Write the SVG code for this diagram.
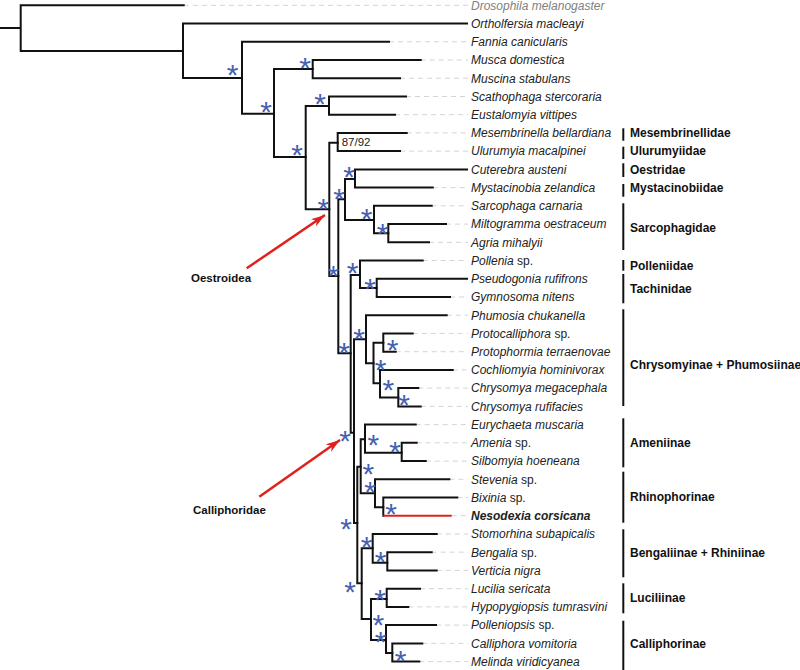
<svg xmlns="http://www.w3.org/2000/svg" width="800" height="670" viewBox="0 0 800 670">
<style>
.br{fill:none;stroke:#111;stroke-width:2;stroke-linecap:square}
.red{fill:none;stroke:#e0201c;stroke-width:2}
.ld{fill:none;stroke:#d4d4d4;stroke-width:1;stroke-dasharray:5 4}
.lf{font-family:"Liberation Sans",Arial,sans-serif;font-size:12px;font-style:italic;fill:#222}
.lf tspan.up{font-style:normal}
.dro{fill:#808080}
.ast{font-family:"Liberation Sans",Arial,sans-serif;font-size:30px;fill:#4561b0;text-anchor:middle}
.bs{font-family:"Liberation Sans",Arial,sans-serif;font-size:11.5px;fill:#222}
.fam{font-family:"Liberation Sans",Arial,sans-serif;font-size:12px;font-weight:bold;fill:#111}
.bar{stroke:#111;stroke-width:2}
.arr{fill:none;stroke:#e0201c;stroke-width:2.5}
.cl{font-family:"Liberation Sans",Arial,sans-serif;font-size:11.5px;font-weight:bold;fill:#111}
</style>
<defs>
<marker id="ah" markerUnits="userSpaceOnUse" markerWidth="16" markerHeight="10" refX="14" refY="5" orient="auto">
<path d="M0,0.5 L14,5 L0,9.5 L4,5 Z" fill="#e0201c"/>
</marker>
</defs>
<g id="connectors">
<g id="leaders">
<path class="ld" d="M184 5.3H468M389 41.8H468M420.7 60H468M400 78.2H468M406 96.5H468M395 114.7H468M406.7 132.9H468M400 151.1H468M432.7 187.6H468M431.7 205.8H468M446 224.1H468M429 242.3H468M422.7 260.5H468M450 297H468M446.7 315.2H468M412.7 333.4H468M395.7 351.7H468M452.7 369.9H468M418.3 388.1H468M420.7 406.4H468M415.7 424.6H468M416.7 442.8H468M425.7 461.1H468M449.3 479.3H468M457.3 497.5H468M451.7 515.7H468M436.7 534H468M431.7 552.2H468M436.7 570.4H468M420 588.7H468M408.3 606.9H468M436 625.1H468M422.3 643.4H468M419.3 661.6H468"/>
</g>
<g id="branches">
<path class="br" d="M0 28H20.7M183.7 5.3H20.7V51H183"/>
<path class="br" d="M467 23.5H183V78H242"/>
<path class="br" d="M389 41.8H242V113.7H274"/>
<path class="br" d="M312.7 69H274V157H305.7"/>
<path class="br" d="M420.7 60H312.7V78.2H400"/>
<path class="br" d="M329 106H305.7V209.3H329.3"/>
<path class="br" d="M406 96.5H329V114.7H395"/>
<path class="br" d="M337.7 142.7H329.3V276H338.3"/>
<path class="br" d="M406.7 132.9H337.7V151.1H400"/>
<path class="br" d="M345 199.3H338.3V353.3H350.7"/>
<path class="br" d="M355 179H345V220H374"/>
<path class="br" d="M467 169.4H355V187.6H432.7"/>
<path class="br" d="M431.7 205.8H374V233.3H388.3"/>
<path class="br" d="M446 224.1H388.3V242.3H429"/>
<path class="br" d="M360 275H350.7V432.7H354"/>
<path class="br" d="M422.7 260.5H360V288H376.7"/>
<path class="br" d="M467 278.8H376.7V297H450"/>
<path class="br" d="M366 339.3H354V523H357.3"/>
<path class="br" d="M446.7 315.2H366V363.3H373.5"/>
<path class="br" d="M383.3 342.7H373.5V383.3H380"/>
<path class="br" d="M412.7 333.4H383.3V351.7H395.7"/>
<path class="br" d="M452.7 369.9H380V397.5H398.3"/>
<path class="br" d="M418.3 388.1H398.3V406.4H420.7"/>
<path class="br" d="M360.7 466.7H357.3V583.3H361.7"/>
<path class="br" d="M365 439.3H360.7V493.3H375"/>
<path class="br" d="M415.7 424.6H365V452.7H401.7"/>
<path class="br" d="M416.7 442.8H401.7V461.1H425.7"/>
<path class="br" d="M449.3 479.3H375V507.3H383.3"/>
<path class="br" d="M457.3 497.5H383.3V515.7"/>
<path class="red" d="M383.3 515.7H451.7"/>
<path class="br" d="M372.7 548.3H361.7V619H371"/>
<path class="br" d="M436.7 534H372.7V562.7H387.3"/>
<path class="br" d="M431.7 552.2H387.3V570.4H436.7"/>
<path class="br" d="M386.7 599H371V640H386"/>
<path class="br" d="M420 588.7H386.7V606.9H408.3"/>
<path class="br" d="M436 625.1H386V653H392.3"/>
<path class="br" d="M422.3 643.4H392.3V661.6H419.3"/>
</g>
<g id="arrows">
<line class="arr" x1="246.7" y1="268.3" x2="325" y2="215" marker-end="url(#ah)"/>
<line class="arr" x1="259.3" y1="496.7" x2="340" y2="440" marker-end="url(#ah)"/>
</g>
</g>
<g id="support">
<text class="bs" x="341.7" y="145.7">87/92</text>
<text class="ast" x="232.7" y="85">*</text>
<text class="ast" x="305" y="78">*</text>
<text class="ast" x="266" y="122">*</text>
<text class="ast" x="320" y="114">*</text>
<text class="ast" x="297" y="164.7">*</text>
<text class="ast" x="323.3" y="218.7">*</text>
<text class="ast" x="349" y="187">*</text>
<text class="ast" x="339" y="208.7">*</text>
<text class="ast" x="366.7" y="228.7">*</text>
<text class="ast" x="382.7" y="243.7">*</text>
<text class="ast" x="333.3" y="286">*</text>
<text class="ast" x="352.7" y="283">*</text>
<text class="ast" x="370" y="298.7">*</text>
<text class="ast" x="359" y="349.3">*</text>
<text class="ast" x="344" y="363">*</text>
<text class="ast" x="392.7" y="360.3">*</text>
<text class="ast" x="380.7" y="380.3">*</text>
<text class="ast" x="388.3" y="400.3">*</text>
<text class="ast" x="404" y="415.3">*</text>
<text class="ast" x="345" y="451">*</text>
<text class="ast" x="373.3" y="454.7">*</text>
<text class="ast" x="395" y="462">*</text>
<text class="ast" x="368.3" y="483.7">*</text>
<text class="ast" x="370" y="502">*</text>
<text class="ast" x="391" y="523.7">*</text>
<text class="ast" x="346" y="539">*</text>
<text class="ast" x="366.7" y="557">*</text>
<text class="ast" x="380.7" y="572">*</text>
<text class="ast" x="350" y="601.5">*</text>
<text class="ast" x="380" y="610">*</text>
<text class="ast" x="378.3" y="634.5">*</text>
<text class="ast" x="380.7" y="651.5">*</text>
<text class="ast" x="400.5" y="670.5">*</text>
</g>
<g id="taxa">
<text class="lf dro" x="471" y="9.6">Drosophila melanogaster</text>
<text class="lf" x="471" y="27.8">Ortholfersia macleayi</text>
<text class="lf" x="471" y="46.1">Fannia canicularis</text>
<text class="lf" x="471" y="64.3">Musca domestica</text>
<text class="lf" x="471" y="82.5">Muscina stabulans</text>
<text class="lf" x="471" y="100.8">Scathophaga stercoraria</text>
<text class="lf" x="471" y="119">Eustalomyia vittipes</text>
<text class="lf" x="471" y="137.2">Mesembrinella bellardiana</text>
<text class="lf" x="471" y="155.4">Ulurumyia macalpinei</text>
<text class="lf" x="471" y="173.7">Cuterebra austeni</text>
<text class="lf" x="471" y="191.9">Mystacinobia zelandica</text>
<text class="lf" x="471" y="210.1">Sarcophaga carnaria</text>
<text class="lf" x="471" y="228.4">Miltogramma oestraceum</text>
<text class="lf" x="471" y="246.6">Agria mihalyii</text>
<text class="lf" x="471" y="264.8">Pollenia<tspan class="up"> sp.</tspan></text>
<text class="lf" x="471" y="283.1">Pseudogonia rufifrons</text>
<text class="lf" x="471" y="301.3">Gymnosoma nitens</text>
<text class="lf" x="471" y="319.5">Phumosia chukanella</text>
<text class="lf" x="471" y="337.7">Protocalliphora<tspan class="up"> sp.</tspan></text>
<text class="lf" x="471" y="356">Protophormia terraenovae</text>
<text class="lf" x="471" y="374.2">Cochliomyia hominivorax</text>
<text class="lf" x="471" y="392.4">Chrysomya megacephala</text>
<text class="lf" x="471" y="410.7">Chrysomya rufifacies</text>
<text class="lf" x="471" y="428.9">Eurychaeta muscaria</text>
<text class="lf" x="471" y="447.1">Amenia<tspan class="up"> sp.</tspan></text>
<text class="lf" x="471" y="465.4">Silbomyia hoeneana</text>
<text class="lf" x="471" y="483.6">Stevenia<tspan class="up"> sp.</tspan></text>
<text class="lf" x="471" y="501.8">Bixinia<tspan class="up"> sp.</tspan></text>
<text class="lf" x="471" y="520" font-weight="bold" fill="#111">Nesodexia corsicana</text>
<text class="lf" x="471" y="538.3">Stomorhina subapicalis</text>
<text class="lf" x="471" y="556.5">Bengalia<tspan class="up"> sp.</tspan></text>
<text class="lf" x="471" y="574.7">Verticia nigra</text>
<text class="lf" x="471" y="593">Lucilia sericata</text>
<text class="lf" x="471" y="611.2">Hypopygiopsis tumrasvini</text>
<text class="lf" x="471" y="629.4">Polleniopsis<tspan class="up"> sp.</tspan></text>
<text class="lf" x="471" y="647.7">Calliphora vomitoria</text>
<text class="lf" x="471" y="665.9">Melinda viridicyanea</text>
</g>
<g id="families">
<line class="bar" x1="623.3" y1="128.3" x2="623.3" y2="140.7"/><text class="fam" x="630" y="137.3">Mesembrinellidae</text>
<line class="bar" x1="623.3" y1="146.7" x2="623.3" y2="159"/><text class="fam" x="630" y="155.4">Ulurumyiidae</text>
<line class="bar" x1="623.3" y1="163.3" x2="623.3" y2="177"/><text class="fam" x="630" y="173.7">Oestridae</text>
<line class="bar" x1="623.3" y1="184" x2="623.3" y2="196.7"/><text class="fam" x="630" y="192.3">Mystacinobiidae</text>
<line class="bar" x1="623.3" y1="203.3" x2="623.3" y2="250"/><text class="fam" x="630" y="231.6">Sarcophagidae</text>
<line class="bar" x1="623.3" y1="260" x2="623.3" y2="270.7"/><text class="fam" x="630" y="270">Polleniidae</text>
<line class="bar" x1="623.3" y1="274" x2="623.3" y2="303.3"/><text class="fam" x="630" y="292.6">Tachinidae</text>
<line class="bar" x1="623.3" y1="309.3" x2="623.3" y2="406"/><text class="fam" x="630" y="369.3">Chrysomyinae + Phumosiinae</text>
<line class="bar" x1="623.3" y1="418.3" x2="623.3" y2="467.3"/><text class="fam" x="630" y="446.6">Ameniinae</text>
<line class="bar" x1="623.3" y1="471.7" x2="623.3" y2="522.7"/><text class="fam" x="630" y="501">Rhinophorinae</text>
<line class="bar" x1="623.3" y1="529.3" x2="623.3" y2="577.3"/><text class="fam" x="630" y="556.6">Bengaliinae + Rhiniinae</text>
<line class="bar" x1="623.3" y1="583.3" x2="623.3" y2="613.3"/><text class="fam" x="630" y="601.6">Luciliinae</text>
<line class="bar" x1="623.3" y1="620.7" x2="623.3" y2="670"/><text class="fam" x="630" y="648.3">Calliphorinae</text>
</g>
<g id="clades">
<text class="cl" x="191" y="282">Oestroidea</text>
<text class="cl" x="193" y="514">Calliphoridae</text>
</g>
</svg>
